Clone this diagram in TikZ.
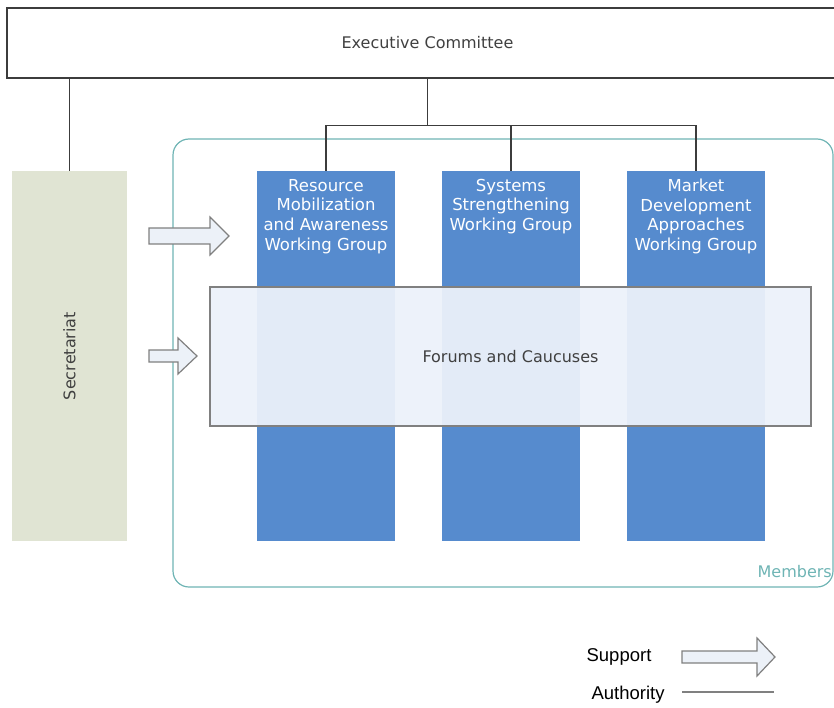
\documentclass[tikz,border=0pt]{standalone}
\usepackage{fontspec}
\setmainfont{DejaVu Sans}
\newfontfamily\legendfont{Liberation Sans}
\usetikzlibrary{positioning}

\definecolor{wgblue}{RGB}{86,139,206}
\definecolor{secgreen}{RGB}{224,228,211}
\definecolor{memteal}{RGB}{110,180,180}
\definecolor{forumfill}{RGB}{236,241,250}
\definecolor{arrowfill}{RGB}{236,241,248}
\definecolor{linegray}{RGB}{60,60,60}
\definecolor{textgray}{RGB}{64,64,64}

\begin{document}
\begin{tikzpicture}[x=1pt, y=-1pt,
    wgbox/.style={fill=wgblue, minimum width=138pt, minimum height=370pt, inner sep=0},
    wglabel/.style={text=white, align=center, font=\fontsize{16.5}{19.7}\selectfont, anchor=north, inner sep=0},
    authority/.style={draw=linegray, line width=1.2pt},
    supportarrow/.style={draw=gray, fill=arrowfill, line width=1.2pt, line join=miter}]
    \useasboundingbox (0,0) rectangle (834,708);

    % Members area
    \draw[memteal, line width=1.2pt, rounded corners=16pt] (173,139) rectangle (833,587);
    \node[text=memteal, font=\fontsize{16}{19}\selectfont, anchor=base east, inner sep=0] (members) at (832,577) {Members};

    % Executive committee
    \node[draw=linegray, line width=1.2pt, minimum width=841pt, minimum height=70pt, text=textgray,
        font=\fontsize{16}{19}\selectfont] (exec) at (427.5,43) {Executive Committee};

    % Secretariat
    \node[fill=secgreen, minimum width=115pt, minimum height=370pt, inner sep=0] (sec) at (69.5,356) {};
    \node[rotate=90, text=textgray, font=\fontsize{16}{19}\selectfont] (seclabel) at (sec.center) {Secretariat};

    % Working groups
    \node[wgbox] (rmwg) at (326,356) {};
    \node[wgbox] (sswg) at (511,356) {};
    \node[wgbox] (mdwg) at (696,356) {};
    \node[wglabel] (rmlabel) at ([yshift=-8pt]rmwg.north) {Resource\\Mobilization\\and Awareness\\Working Group};
    \node[wglabel] (sslabel) at ([yshift=-8pt]sswg.north) {Systems\\Strengthening\\Working Group};
    \node[wglabel] (mdlabel) at ([yshift=-8pt]mdwg.north) {Market\\Development\\Approaches\\Working Group};

    % Forums
    \node[draw=gray, line width=1.5pt, fill=forumfill, fill opacity=0.94, text opacity=1, text=textgray,
        minimum width=601pt, minimum height=139pt, font=\fontsize{16}{19}\selectfont] (forums) at (510.5,356.5) {Forums and Caucuses};

    % Authority lines
    \coordinate (branch) at ([yshift=-47pt]exec.south);
    \draw[authority] (sec.north |- exec.south) -- (sec.north);
    \draw[authority] (exec.south) -- (branch);
    \draw[authority] (rmwg.north) |- (branch) -| (mdwg.north);
    \draw[authority] (sswg.north) -- (sswg.north |- branch);

    % Support arrows
    \draw[supportarrow] (149,228) -- ++(61,0) -- ++(0,-11) -- ++(19,19) -- ++(-19,19) -- ++(0,-11) -- ++(-61,0) -- cycle;
    \draw[supportarrow] (149,350) -- ++(29,0) -- ++(0,-12) -- ++(19,18) -- ++(-19,18) -- ++(0,-12) -- ++(-29,0) -- cycle;

    % Legend
    \node[font=\legendfont\fontsize{18.5}{21}\selectfont] (support) at (619,657) {Support};
    \node[font=\legendfont\fontsize{18.5}{21}\selectfont] (authority) at (628,695) {Authority};
    \draw[supportarrow] (682,651) -- ++(75,0) -- ++(0,-13) -- ++(18,19) -- ++(-18,19) -- ++(0,-13) -- ++(-75,0) -- cycle;
    \coordinate (authstart) at (682,692);
    \coordinate (authend) at (774,692);
    \draw[authority, draw=gray] (authstart) -- (authend);
\end{tikzpicture}
\end{document}
